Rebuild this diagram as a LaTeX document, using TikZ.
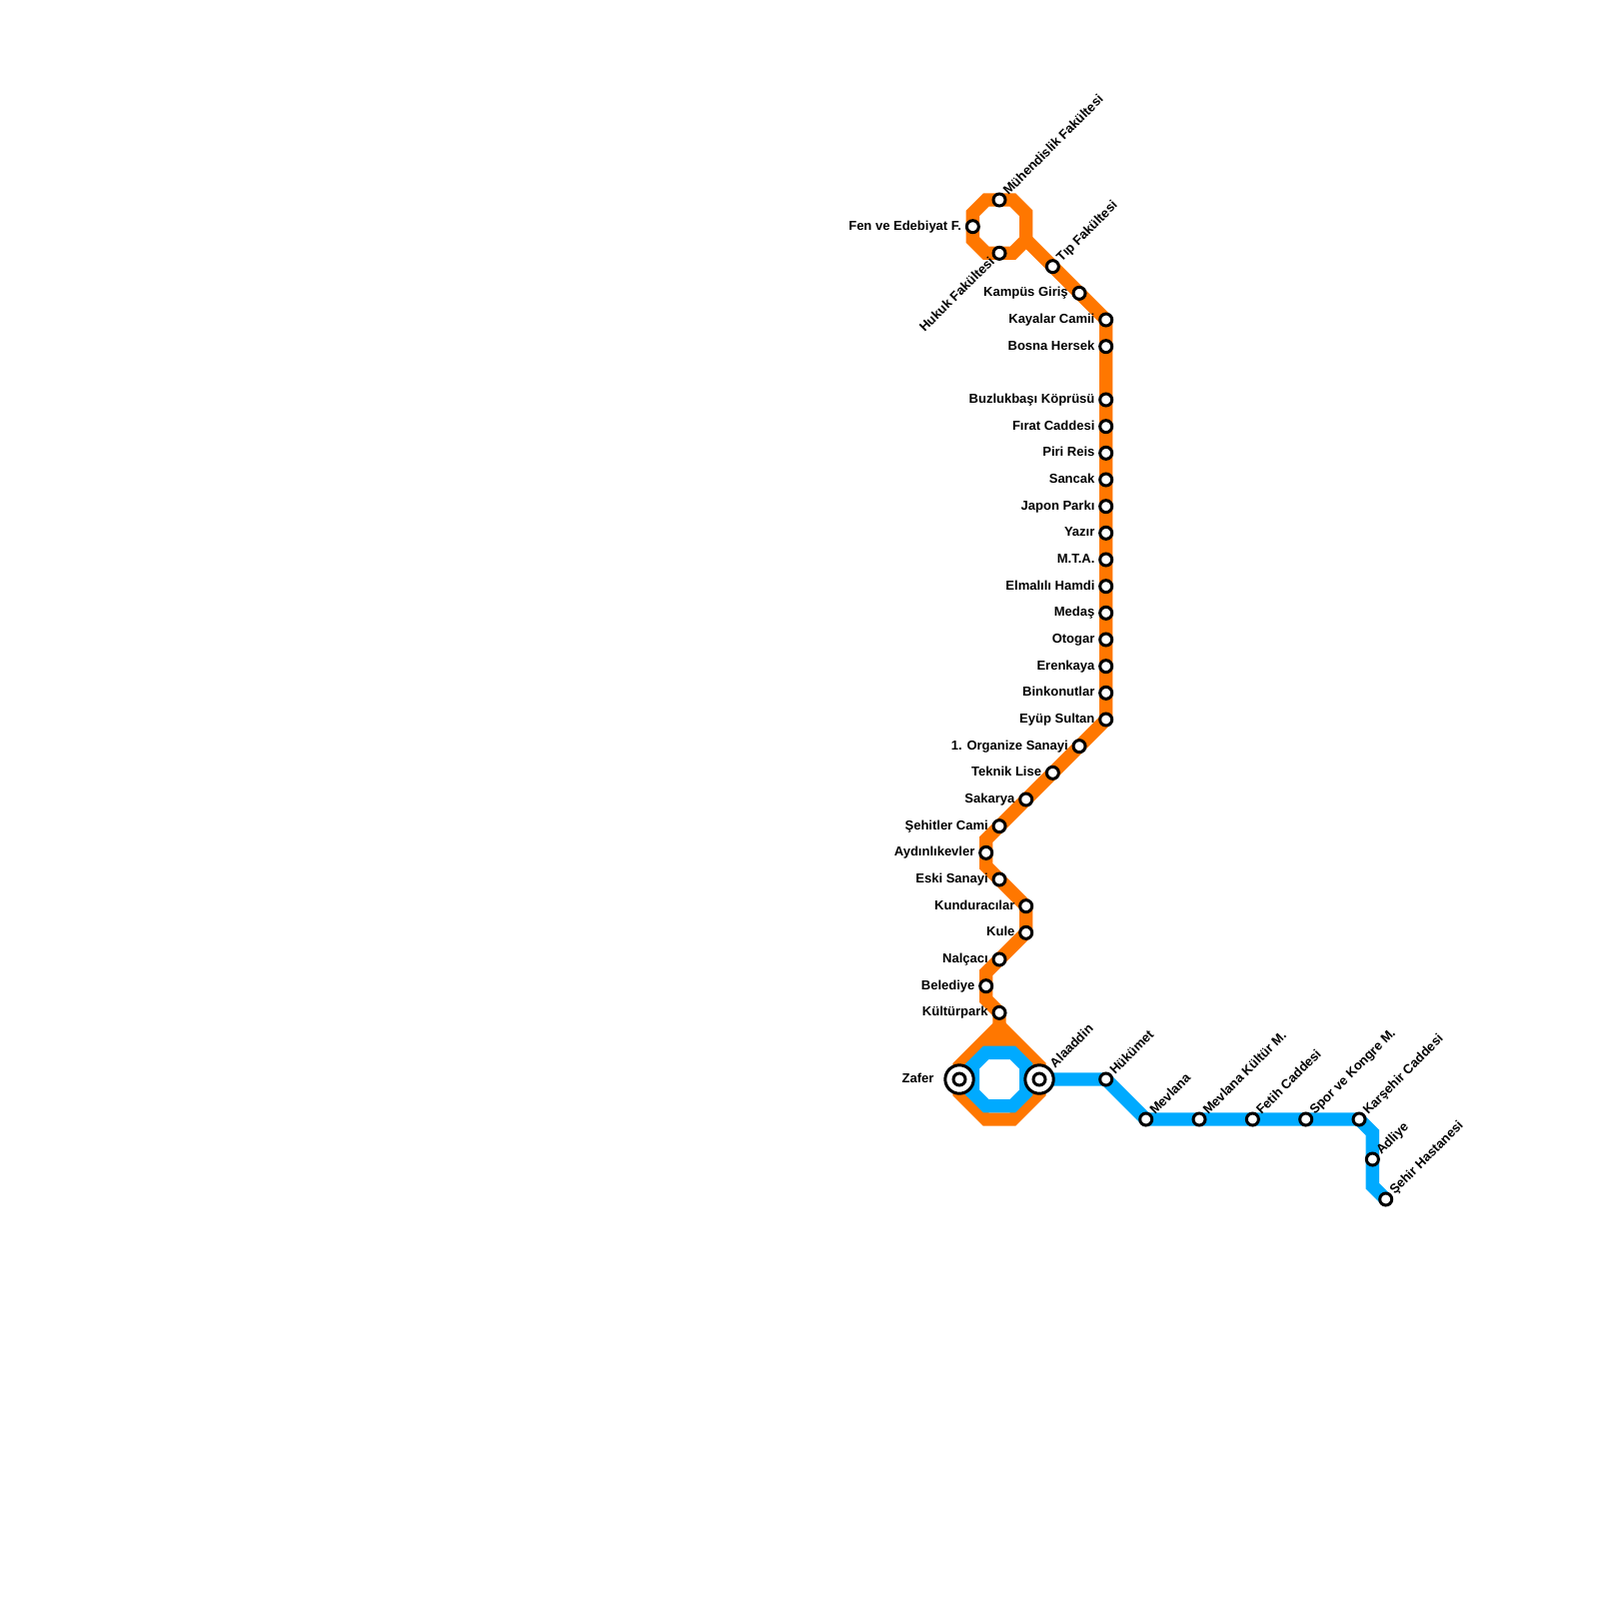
\documentclass[tikz,border=0pt]{standalone}
\usepackage{fontspec}
\setmainfont{Liberation Sans}
\usetikzlibrary{backgrounds,positioning}
\definecolor{lineorange}{HTML}{FF7700}
\definecolor{lineblue}{HTML}{00AAFF}
\tikzset{
    stn/.style={circle, draw=black, fill=white, line width=0.45mm, minimum size=1.8mm, inner sep=0pt},
    hub/.style={circle, draw=black, fill=white, line width=0.45mm, minimum size=4.26mm, inner sep=0pt},
    stnlabel/.style={font=\fontsize{5.55}{6}\selectfont\bfseries, inner sep=0pt, text height=4.2pt, text depth=1.2pt},
    metro/.style={line width=2mm, line join=miter},
}
\begin{document}
\begin{tikzpicture}[x=2mm, y=-2mm]
    \useasboundingbox (0,0) rectangle (120,120);

    % The stations, label on the left
    \foreach \ix/\iy/\nm/\txt in {
        73/17/fen/Fen ve Edebiyat F.,
        81/22/giris/Kampüs Giriş,
        83/24/kayalar/Kayalar Camii,
        83/26/bosna/Bosna Hersek,
        83/30/buzluk/Buzlukbaşı Köprüsü,
        83/32/firat/Fırat Caddesi,
        83/34/piri/Piri Reis,
        83/36/sancak/Sancak,
        83/38/japon/Japon Parkı,
        83/40/yazir/Yazır,
        83/42/mta/M.T.A.,
        83/44/elmalili/Elmalılı Hamdi,
        83/46/medas/Medaş,
        83/48/otogar/Otogar,
        83/50/erenkaya/Erenkaya,
        83/52/binkonut/Binkonutlar,
        83/54/eyup/Eyüp Sultan,
        81/56/organize/1. Organize Sanayi,
        79/58/teknik/Teknik Lise,
        77/60/sakarya/Sakarya,
        75/62/sehitler/Şehitler Cami,
        74/64/aydin/Aydınlıkevler,
        75/66/eski/Eski Sanayi,
        77/68/kundura/Kunduracılar,
        77/70/kule/Kule,
        75/72/nalcaci/Nalçacı,
        74/74/belediye/Belediye,
        75/76/kultur/Kültürpark} {
        \node[stn] (\nm) at (\ix,\iy) {};
        \node[stnlabel, left=0.5mm of \nm] (\nm txt) {\txt};
    }

    % The stations, label going up to the right
    \foreach \ix/\iy/\nm/\txt in {
        75/15/muhendis/Mühendislik Fakültesi,
        79/20/tip/Tıp Fakültesi,
        83/81/hukumet/Hükümet,
        86/84/mevlana/Mevlana,
        90/84/kultur2/Mevlana Kültür M.,
        94/84/fetih/Fetih Caddesi,
        98/84/spor/Spor ve Kongre M.,
        102/84/karsehir/Karşehir Caddesi,
        103/87/adliye/Adliye,
        104/90/sehir/Şehir Hastanesi} {
        \node[stn] (\nm) at (\ix,\iy) {};
        \node[stnlabel, rotate=45, anchor=west] (\nm txt) at ([xshift=0.15mm, yshift=0.15mm]\nm.north east) {\txt};
    }

    % Hukuk is the only one going down to the left
    \node[stn] (hukuk) at (75,19) {};
    \node[stnlabel, rotate=45, anchor=east] (hukuk txt) at ([xshift=-0.15mm, yshift=-0.15mm]hukuk.south west) {Hukuk Fakültesi};

    % The two interchanges
    \node[hub] (zafer) at (72,81) {};
    \node[stn] (zafer in) at (zafer) {};
    \node[stnlabel, left=1.4mm of zafer] (zafer txt) {Zafer};
    \node[hub] (alaaddin) at (78,81) {};
    \node[stn] (alaaddin in) at (alaaddin) {};
    \node[stnlabel, rotate=45, anchor=west] (alaaddin txt) at ([xshift=0.3mm, yshift=0.3mm]alaaddin.north east) {Alaaddin};

    \begin{scope}[on background layer]
        % The orange line
        \draw[metro, lineorange] (74,15) -- (muhendis.center) -- (76,15) -- (77,16) -- (77,18) -- (76,19) -- (hukuk.center) -- (74,19) -- (73,18) -- (fen.center) -- (73,16) -- cycle;
        \draw[metro, lineorange] (77,18) -- (tip.center) -- (giris.center) -- (kayalar.center) -- (eyup.center) -- (sehitler.center) -- (74,63) -- (aydin.center) -- (74,65) -- (eski.center) -- (kundura.center) -- (kule.center) -- (nalcaci.center) -- (74,73) -- (belediye.center) -- (74,75) -- (kultur.center) -- (75,78);
        \draw[metro, lineorange] (75,77) -- (72,80) -- (72,82) -- (74,84) -- (76,84) -- (78,82) -- (78,80) -- cycle;
        \draw[metro, lineorange] (74,78) -- (76,78);

        % The blue line
        \draw[metro, lineblue] (74,79) -- (76,79) -- (77,80) -- (77,82) -- (76,83) -- (74,83) -- (73,82) -- (73,80) -- cycle;
        \draw[metro, lineblue] (zafer.center) -- (73,80);
        \draw[metro, lineblue] (zafer.center) -- (73,82);
        \draw[metro, lineblue] (alaaddin.center) -- (hukumet.center) -- (mevlana.center) -- (karsehir.center) -- (103,85) -- (103,89) -- (sehir.center);
    \end{scope}
\end{tikzpicture}
\end{document}
